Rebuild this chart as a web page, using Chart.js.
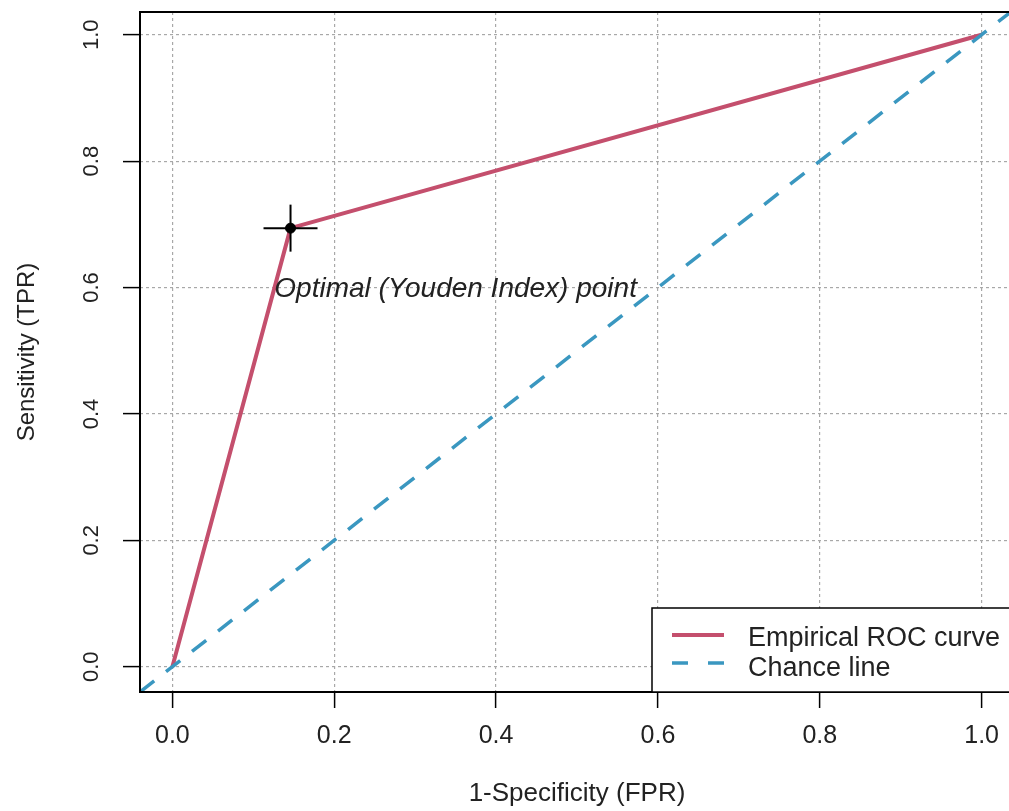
<!DOCTYPE html>
<html><head><meta charset="utf-8">
<script src="https://cdn.jsdelivr.net/npm/chart.js@4.4.0/dist/chart.umd.min.js"></script>
<style>html,body{margin:0;padding:0;overflow:hidden;background:#fff;width:1009px;height:811px}</style>
</head><body>
<canvas id="c" width="1030" height="811" style="display:block;width:1030px;height:811px"></canvas>
<script>
// ---- data ----
const rocFPR = [0, 0.146, 1];
const rocTPR = [0, 0.694, 1];
const chanceX = [-0.04, 1.04];
const chanceY = [-0.04, 1.04];
const optimalFPR = [0.146];
const optimalTPR = [0.694];
const xTicks = [0, 0.2, 0.4, 0.6, 0.8, 1.0];
const yTicks = [0, 0.2, 0.4, 0.6, 0.8, 1.0];
const xTickLabels = ['0.0', '0.2', '0.4', '0.6', '0.8', '1.0'];
const yTickLabels = ['0.0', '0.2', '0.4', '0.6', '0.8', '1.0'];
const seriesLabels = ['Empirical ROC curve', 'Chance line'];
const annotationText = 'Optimal (Youden Index) point';
const annotationPos = [0.35, 0.598];
const xTitle = '1-Specificity (FPR)';
const yTitle = 'Sensitivity (TPR)';

const FONT = "'Liberation Sans', Arial, Helvetica, sans-serif";
const ROC_COLOR = '#c44f6d';
const CHANCE_COLOR = '#3a97c0';

const pts = (xs, ys) => xs.map((x, i) => ({x: x, y: ys[i]}));

const rPlugin = {
  id: 'rstyle',
  afterDatasetsDraw(chart) {
    const ctx = chart.ctx, a = chart.chartArea;
    const xs = chart.scales.x, ys = chart.scales.y;
    ctx.save();
    // box
    ctx.strokeStyle = '#000'; ctx.lineWidth = 2; ctx.setLineDash([]);
    ctx.strokeRect(a.left, a.top, a.right - a.left, a.bottom - a.top);
    // y tick labels (rotated, R style)
    ctx.fillStyle = '#222';
    ctx.font = '22px ' + FONT;
    ctx.textAlign = 'center'; ctx.textBaseline = 'middle';
    yTicks.forEach((v, i) => {
      const py = ys.getPixelForValue(v);
      ctx.save();
      ctx.translate(92, py);
      ctx.rotate(-Math.PI / 2);
      ctx.fillText(yTickLabels[i], 0, 0);
      ctx.restore();
    });
    // annotation
    ctx.font = 'italic 28px ' + FONT;
    ctx.fillStyle = '#222';
    ctx.fillText(annotationText, xs.getPixelForValue(annotationPos[0]), ys.getPixelForValue(annotationPos[1]));
    // legend (bottomright)
    const lw = 362, lh = 84;
    const L = a.right - lw, T = a.bottom - lh;
    ctx.fillStyle = '#fff';
    ctx.fillRect(L, T, lw, lh);
    ctx.strokeStyle = '#000'; ctx.lineWidth = 1.5;
    ctx.strokeRect(L, T, lw, lh);
    ctx.lineWidth = 4; ctx.strokeStyle = ROC_COLOR;
    ctx.beginPath(); ctx.moveTo(L + 20, T + 27); ctx.lineTo(L + 72, T + 27); ctx.stroke();
    ctx.lineWidth = 3.5; ctx.strokeStyle = CHANCE_COLOR;
    ctx.setLineDash([16, 20]);
    ctx.beginPath(); ctx.moveTo(L + 20, T + 55); ctx.lineTo(L + 72, T + 55); ctx.stroke();
    ctx.setLineDash([]);
    ctx.fillStyle = '#222';
    ctx.font = '27px ' + FONT;
    ctx.textAlign = 'left'; ctx.textBaseline = 'alphabetic';
    ctx.fillText(seriesLabels[0], L + 96, T + 38);
    ctx.fillText(seriesLabels[1], L + 96, T + 68);
    ctx.restore();
  }
};

new Chart(document.getElementById('c'), {
  type: 'scatter',
  data: {
    datasets: [
      { data: pts(optimalFPR, optimalTPR), pointStyle: 'circle', pointRadius: 5, pointBackgroundColor: '#000', pointBorderColor: '#000', pointBorderWidth: 1, showLine: false },
      { data: pts(optimalFPR, optimalTPR), pointStyle: 'line', pointRadius: 27, pointBorderColor: '#000', pointBorderWidth: 2, showLine: false },
      { data: pts(optimalFPR, optimalTPR), pointStyle: 'line', rotation: 90, pointRotation: 90, pointRadius: 23.5, pointBorderColor: '#000', pointBorderWidth: 2, showLine: false },
      { label: seriesLabels[1], data: pts(chanceX, chanceY), showLine: true, borderColor: CHANCE_COLOR, borderWidth: 3.5, borderDash: [18, 15], pointRadius: 0, fill: false },
      { label: seriesLabels[0], data: pts(rocFPR, rocTPR), showLine: true, borderColor: ROC_COLOR, borderWidth: 4, pointRadius: 0, fill: false, borderJoinStyle: 'round' }
    ]
  },
  options: {
    responsive: false,
    animation: false,
    devicePixelRatio: 1,
    layout: { autoPadding: false, padding: { left: 0, top: 12, right: 16, bottom: 0 } },
    plugins: { legend: { display: false }, tooltip: { enabled: false } },
    events: [],
    scales: {
      x: {
        type: 'linear', min: -0.04, max: 1.04,
        afterBuildTicks: s => { s.ticks = xTicks.map(v => ({value: v})); },
        afterFit: s => { s.height = 119; },
        ticks: { callback: (v, i) => xTickLabels[i], font: { family: FONT, size: 25 }, color: '#222', padding: 13, maxRotation: 0, minRotation: 0 },
        grid: { color: '#a8a8a8', lineWidth: 1.2, tickColor: '#000', tickWidth: 1.5, tickLength: 16, tickBorderDash: [] },
        border: { display: false, dash: [3, 3] },
        title: { display: true, text: xTitle, font: { family: FONT, size: 26 }, color: '#222', padding: { top: 0, bottom: 2 } }
      },
      y: {
        type: 'linear', min: -0.04, max: 1.036,
        afterBuildTicks: s => { s.ticks = yTicks.map(v => ({value: v})); },
        afterFit: s => { s.width = 140; },
        ticks: { display: false },
        grid: { color: '#a8a8a8', lineWidth: 1.2, tickColor: '#000', tickWidth: 1.5, tickLength: 17, tickBorderDash: [] },
        border: { display: false, dash: [3, 3] },
        title: { display: true, text: yTitle, font: { family: FONT, size: 24 }, color: '#222', padding: { top: 13, bottom: 0 } }
      }
    }
  },
  plugins: [rPlugin]
});
</script>
</body></html>
